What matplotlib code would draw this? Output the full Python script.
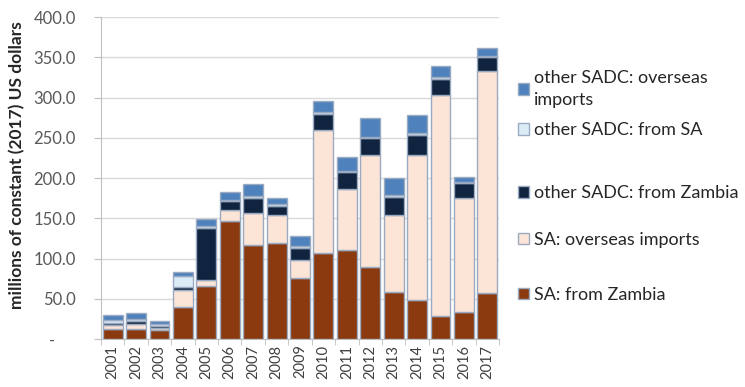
import matplotlib.pyplot as plt
import numpy as np

plt.rcParams['font.family'] = ['Lato', 'DejaVu Sans']

years = ['2001', '2002', '2003', '2004', '2005', '2006', '2007', '2008', '2009',
         '2010', '2011', '2012', '2013', '2014', '2015', '2016', '2017']

# millions of constant (2017) US dollars
sa_zambia = [13, 12, 11, 40, 66, 147, 117, 119, 76, 107, 111, 89, 59, 49, 29, 34, 57]
sa_overseas = [4, 7, 2.5, 21, 7, 13, 39, 35, 22, 153, 75, 140, 95, 179, 274, 141, 276]
oth_zambia = [3, 3, 2.5, 3, 65, 11, 19, 11, 15, 20, 21, 21, 22, 25, 20, 19, 17]
oth_sa = [4, 3, 2.5, 14, 3, 2, 3, 3, 2, 1.5, 2, 1.5, 3, 3, 2, 1.5, 1.5]
oth_overseas = [6, 7, 4, 5, 8, 10, 15, 7, 13, 14, 17, 23, 21, 22, 14, 6, 10]

series = [
    (sa_zambia, '#8B3A10', 'SA: from Zambia'),
    (sa_overseas, '#FCE4D6', 'SA: overseas imports'),
    (oth_zambia, '#10243F', 'other SADC: from Zambia'),
    (oth_sa, '#DDEBF7', 'other SADC: from SA'),
    (oth_overseas, '#4F81BD', 'other SADC: overseas\nimports'),
]
# legend entry centres (figure fraction), bottom series first
legend_y = [0.238, 0.380, 0.501, 0.664, 0.771]

fig = plt.figure(figsize=(7.45, 3.87), dpi=100)
ax = fig.add_axes([0.1356, 0.124, 0.5342, 0.832])

x = np.arange(len(years))
bottom = np.zeros(len(years))
for (vals, col, lab), ly in zip(series, legend_y):
    b = ax.bar(x, vals, 0.85, bottom=bottom, color=col, edgecolor='#9AAAC0',
               linewidth=1, label=lab, zorder=3)
    bottom += np.array(vals)
    leg = fig.legend([b], [lab], loc='center left', bbox_to_anchor=(0.683, ly),
                     frameon=False, fontsize=13, handlelength=0.62, handleheight=0.62,
                     handletextpad=0.3, labelcolor='#262626', borderpad=0)
    leg.get_texts()[0].set_linespacing(1.45)

ax.set_xlim(-0.5, len(years) - 0.5)
ax.set_ylim(0, 400)
yt = np.arange(0, 401, 50)
ax.set_yticks(yt)
ax.set_yticklabels(['-     '] + ['%.1f' % v for v in yt[1:]], fontsize=12, color='#595959')
ax.tick_params(axis='y', length=5, color='#BFBFBF', pad=13)
ax.set_xticks(x)
ax.set_xticklabels(years, rotation=90, fontsize=10.5, color='#404040')
ax.tick_params(axis='x', length=0, pad=4)
ax.set_xticks(np.arange(-0.5, len(years)), minor=True)
ax.tick_params(axis='x', which='minor', length=4, color='#BFBFBF')
ax.grid(axis='y', color='#D9D9D9', linewidth=1, zorder=0)
for s in ['top', 'right']:
    ax.spines[s].set_visible(False)
ax.spines['left'].set_color('#BFBFBF')
ax.spines['bottom'].set_color('#BFBFBF')

ax.set_ylabel('millions of constant (2017) US dollars', fontsize=12.5, fontweight='bold',
              color='#262626')
ax.yaxis.set_label_coords(-0.19, 0.54)

fig.savefig('out.png', dpi=100)
